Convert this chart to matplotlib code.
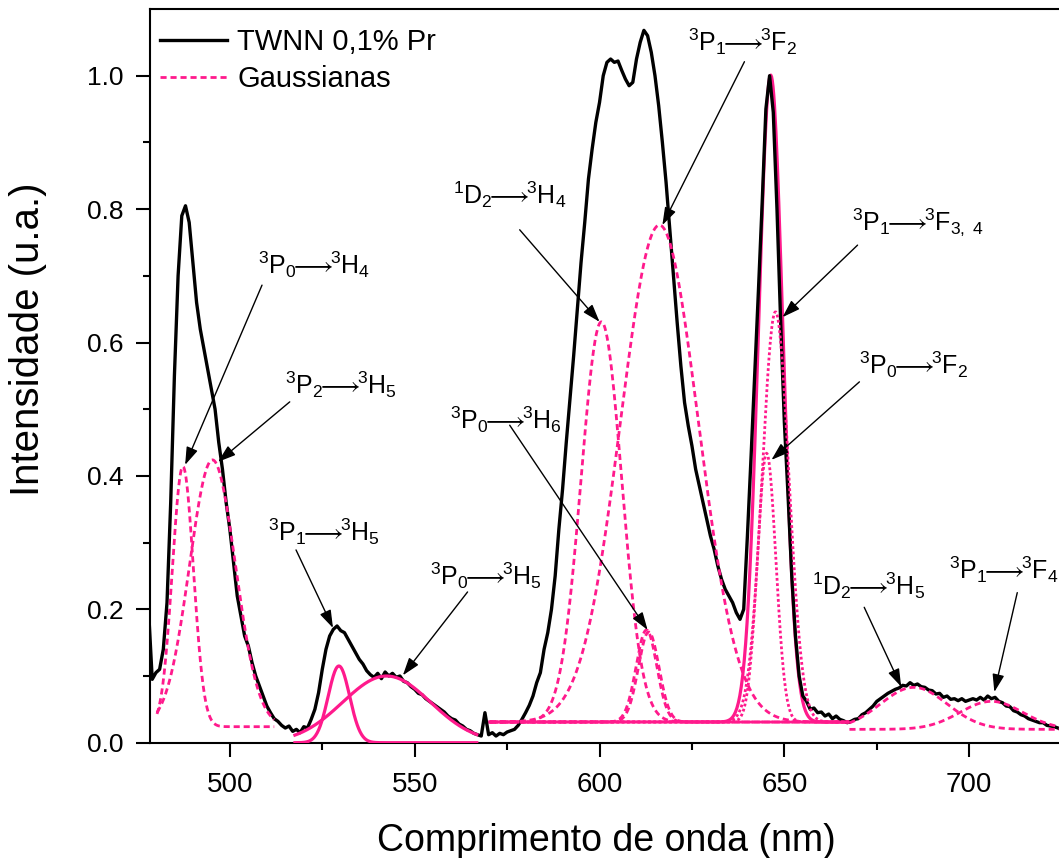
import numpy as np
import matplotlib
matplotlib.use('Agg')
import matplotlib.pyplot as plt

plt.rcParams['font.family'] = ['Liberation Sans', 'DejaVu Sans']
plt.rcParams['mathtext.fontset'] = 'custom'
plt.rcParams['mathtext.rm'] = 'Liberation Sans'
plt.rcParams['mathtext.it'] = 'Liberation Sans:italic'
plt.rcParams['mathtext.bf'] = 'Liberation Sans:bold'
plt.rcParams['mathtext.sf'] = 'Liberation Sans'
plt.rcParams['mathtext.fallback'] = 'stixsans'
plt.rcParams['mathtext.default'] = 'regular'

# espectro de emissao TWNN 0,1% Pr (passo de 1 nm, 478 a 724 nm)
comprimento = np.arange(478, 725)
intensidade = [
    0.200, 0.095, 0.105, 0.110, 0.140, 0.210, 0.360, 0.550, 0.700, 0.790,
    0.805, 0.780, 0.720, 0.660, 0.620, 0.590, 0.560, 0.530, 0.500, 0.450,
    0.410, 0.360, 0.320, 0.270, 0.220, 0.190, 0.160, 0.145, 0.120, 0.100,
    0.085, 0.070, 0.055, 0.045, 0.036, 0.032, 0.026, 0.022, 0.025, 0.017,
    0.020, 0.015, 0.024, 0.022, 0.035, 0.050, 0.075, 0.110, 0.140, 0.160,
    0.170, 0.175, 0.168, 0.165, 0.155, 0.145, 0.135, 0.125, 0.118, 0.108,
    0.102, 0.098, 0.104, 0.096, 0.106, 0.100, 0.104, 0.098, 0.100, 0.092,
    0.090, 0.084, 0.080, 0.074, 0.072, 0.066, 0.062, 0.058, 0.054, 0.050,
    0.046, 0.040, 0.036, 0.034, 0.028, 0.025, 0.020, 0.018, 0.014, 0.012,
    0.010, 0.045, 0.012, 0.015, 0.010, 0.014, 0.012, 0.016, 0.018, 0.020,
    0.026, 0.035, 0.045, 0.056, 0.070, 0.090, 0.105, 0.140, 0.165, 0.200,
    0.250, 0.320, 0.380, 0.450, 0.515, 0.580, 0.650, 0.720, 0.780, 0.845,
    0.890, 0.930, 0.960, 1.000, 1.020, 1.025, 1.020, 1.022, 1.008, 0.995,
    0.985, 0.990, 1.025, 1.050, 1.068, 1.060, 1.035, 1.000, 0.955, 0.900,
    0.840, 0.770, 0.700, 0.630, 0.565, 0.510, 0.475, 0.445, 0.410, 0.385,
    0.360, 0.335, 0.310, 0.290, 0.265, 0.245, 0.230, 0.220, 0.210, 0.195,
    0.185, 0.200, 0.310, 0.430, 0.555, 0.680, 0.810, 0.950, 1.000, 0.945,
    0.800, 0.630, 0.480, 0.370, 0.250, 0.160, 0.100, 0.070, 0.062, 0.050,
    0.052, 0.045, 0.046, 0.040, 0.043, 0.036, 0.040, 0.035, 0.033, 0.030,
    0.032, 0.035, 0.036, 0.042, 0.045, 0.050, 0.055, 0.062, 0.066, 0.070,
    0.074, 0.077, 0.080, 0.082, 0.086, 0.085, 0.090, 0.086, 0.088, 0.084,
    0.083, 0.079, 0.078, 0.073, 0.074, 0.068, 0.070, 0.065, 0.066, 0.063,
    0.066, 0.062, 0.064, 0.066, 0.064, 0.068, 0.064, 0.070, 0.066, 0.068,
    0.062, 0.060, 0.055, 0.054, 0.048, 0.046, 0.042, 0.040, 0.036, 0.034,
    0.032, 0.030, 0.030, 0.026, 0.025, 0.024, 0.022,
]

# parametros das gaussianas ajustadas: centro, largura, amplitude, linha base, faixa
g_xc = [487.3, 495.3, 529.5, 542.4, 600.5, 616.2, 612.7, 613.3, 645.2, 647.6, 646.3, 685.0, 706.0]
g_w = [2.85, 6.2, 2.9, 11.9, 5.5, 10.5, 2.8, 2.8, 2.5, 3.6, 3.3, 9.0, 8.5]
g_a = [0.390, 0.400, 0.115, 0.100, 0.600, 0.745, 0.138, 0.135, 0.403, 0.615, 0.970, 0.063, 0.042]
g_y0 = [0.024, 0.024, 0.0, 0.0, 0.031, 0.031, 0.031, 0.031, 0.031, 0.031, 0.031, 0.020, 0.020]
g_ini = [480.3, 480.3, 517.6, 517.6, 570.3, 570.3, 570.3, 570.3, 570.3, 570.3, 570.3, 667.6, 667.6]
g_fim = [512.0, 512.0, 566.8, 566.8, 667.6, 667.6, 667.6, 667.6, 667.6, 667.6, 667.6, 725.0, 725.0]
g_estilo = ['tr', 'tr', 'cont', 'cont', 'tr', 'tr', 'tr', 'tr', 'pt', 'pt', 'fundo', 'tr', 'tr']

# transicoes indicadas com setas
transicoes = [
    r'$^{3}P_{0}\!\!\longrightarrow\!\!^{3}H_{4}$',
    r'$^{3}P_{2}\!\!\longrightarrow\!\!^{3}H_{5}$',
    r'$^{3}P_{1}\!\!\longrightarrow\!\!^{3}H_{5}$',
    r'$^{3}P_{0}\!\!\longrightarrow\!\!^{3}H_{5}$',
    r'$^{1}D_{2}\!\!\longrightarrow\!\!^{3}H_{4}$',
    r'$^{3}P_{1}\!\!\longrightarrow\!\!^{3}F_{2}$',
    r'$^{3}P_{1}\!\!\longrightarrow\!\!^{3}F_{3,\ 4}$',
    r'$^{3}P_{0}\!\!\longrightarrow\!\!^{3}F_{2}$',
    r'$^{3}P_{0}\!\!\longrightarrow\!\!^{3}H_{6}$',
    r'$^{1}D_{2}\!\!\longrightarrow\!\!^{3}H_{5}$',
    r'$^{3}P_{1}\!\!\longrightarrow\!\!^{3}F_{4}$',
]
pos_texto = [(507.6, 0.716), (514.9, 0.536), (510.3, 0.316), (554.1, 0.251),
             (560.3, 0.821), (623.8, 1.051), (668.4, 0.781), (670.3, 0.566),
             (559.5, 0.484), (657.6, 0.236), (694.6, 0.259)]
pos_inicio = [(508.7, 0.686), (516.2, 0.511), (517.9, 0.289), (564.3, 0.226),
              (578.4, 0.769), (639.2, 1.021), (669.8, 0.746), (670.3, 0.541),
              (575.7, 0.476), (671.6, 0.203), (713.0, 0.225)]
pos_seta = [(487.9, 0.4165), (496.8, 0.421), (527.9, 0.172), (546.8, 0.101),
            (600.0, 0.631), (617.0, 0.776), (649.5, 0.638), (646.5, 0.424),
            (613.0, 0.169), (681.6, 0.084), (706.8, 0.076)]

rosa = '#FF1A8C'


def gauss(x, xc, w, a, y0):
    return y0 + a * np.exp(-(x - xc) ** 2 / (2 * w ** 2))


fig = plt.figure(figsize=(10.59, 8.58), dpi=100)
ax = fig.add_axes([150 / 1059, 115.3 / 858, 912 / 1059, 733.7 / 858])

ax.plot(comprimento, intensidade, color='black', lw=2.4, label='TWNN 0,1% Pr', zorder=2)

for i in range(len(g_xc)):
    x = np.linspace(g_ini[i], g_fim[i], 500)
    y = gauss(x, g_xc[i], g_w[i], g_a[i], g_y0[i])
    if g_estilo[i] == 'cont':
        ax.plot(x, y, color=rosa, lw=2.3, zorder=3)
    elif g_estilo[i] == 'fundo':
        # soma sob o pico de 646 nm, fica atras do espectro
        ax.plot(x, y, color=rosa, lw=2.3, zorder=1)
    elif g_estilo[i] == 'pt':
        ax.plot(x, y, color=rosa, lw=2.0, dashes=(1.0, 0.9), zorder=3)
    else:
        ax.plot(x, y, color=rosa, lw=2.0, dashes=(2.2, 1.4), zorder=3)

# entrada da legenda para as gaussianas
ax.plot([], [], color=rosa, lw=2.0, dashes=(2.2, 1.4), label='Gaussianas')

for txt, pt, p0, p1 in zip(transicoes, pos_texto, pos_inicio, pos_seta):
    ax.text(pt[0], pt[1], txt, fontsize=18, ha='left', va='center', zorder=5)
    ax.annotate('', xy=p1, xytext=p0,
                arrowprops=dict(arrowstyle='-|>,head_length=0.6,head_width=0.2',
                                color='black', lw=1.0, mutation_scale=18,
                                shrinkA=0, shrinkB=0), zorder=5)

ax.set_xlim(478.4, 725.1)
ax.set_ylim(0, 1.1)
ax.set_xticks([500, 550, 600, 650, 700])
ax.set_xticks([525, 575, 625, 675, 725], minor=True)
ax.set_yticks([0.0, 0.2, 0.4, 0.6, 0.8, 1.0])
ax.set_yticks([0.1, 0.3, 0.5, 0.7, 0.9], minor=True)
ax.set_yticklabels(['0.0', '0.2', '0.4', '0.6', '0.8', '1.0'])

ax.tick_params(which='major', direction='out', length=10, width=1.5)
ax.tick_params(which='minor', direction='out', length=5, width=1.5)
ax.tick_params(axis='x', labelsize=20, pad=11)
ax.tick_params(axis='y', labelsize=19, pad=9)
ax.tick_params(top=False, right=False)
for s in ax.spines.values():
    s.set_linewidth(1.5)
ax.spines['right'].set_visible(False)

ax.set_xlabel('Comprimento de onda (nm)', fontsize=27, labelpad=18)
ax.set_ylabel('Intensidade (u.a.)', fontsize=29)
ax.yaxis.set_label_coords(-0.113, 0.55)

ax.legend(loc='upper left', bbox_to_anchor=(0, 1 - 9 / 733.7), frameon=False,
          fontsize=21, handlelength=2.3, handletextpad=0.35, labelspacing=0.32,
          borderaxespad=0, borderpad=0.34)

fig.savefig('out.png', dpi=100)
